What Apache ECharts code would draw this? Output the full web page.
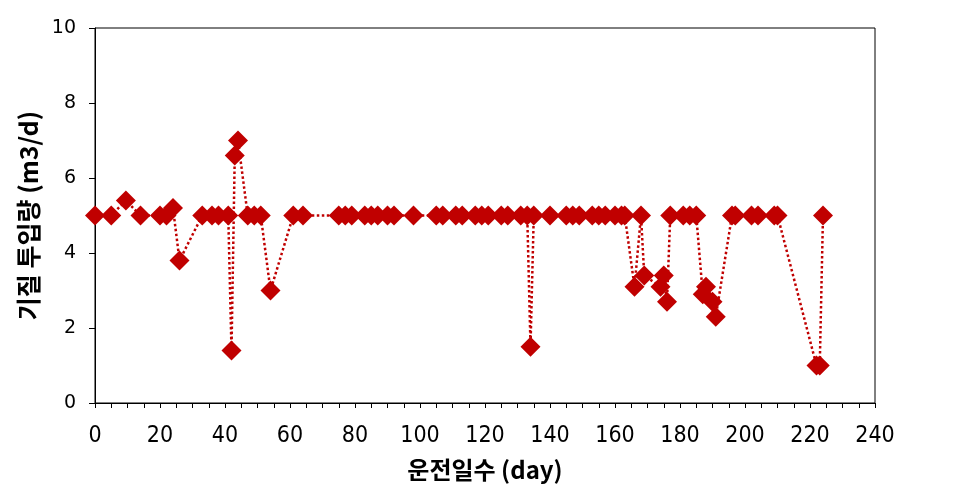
<!DOCTYPE html>
<html>
<head>
<meta charset="utf-8">
<script src="https://cdn.jsdelivr.net/npm/echarts@6/dist/echarts.min.js"></script>
<style>
html,body{margin:0;padding:0;background:#fff;}
#chart{width:974px;height:494px;}
</style>
</head>
<body>
<div id="chart"></div>
<script>
// Operating day (x) and substrate loading (m3/d)
const days = [0, 5, 9.5, 14, 20, 22, 24, 26, 33, 36, 38, 41, 42, 43, 44, 47, 49, 51, 54, 61, 64,
  75, 77, 79, 83, 85, 87, 90, 92, 98,
  105, 107, 111, 113, 117, 119, 121, 125, 127, 131, 133, 134, 135, 140,
  145, 147, 149, 153, 155, 157, 160, 162, 163, 166, 168, 169, 174, 175, 176, 177,
  181, 183, 185, 187, 188, 190, 191, 196, 197, 202, 204, 209, 210, 222, 223, 224];
const loading = [5, 5, 5.4, 5, 5, 5, 5.2, 3.8, 5, 5, 5, 5, 1.4, 6.6, 7.0, 5, 5, 5, 3.0, 5, 5,
  5, 5, 5, 5, 5, 5, 5, 5, 5,
  5, 5, 5, 5, 5, 5, 5, 5, 5, 5, 5, 1.5, 5, 5,
  5, 5, 5, 5, 5, 5, 5, 5, 5, 3.1, 5, 3.4, 3.1, 3.4, 2.7, 5,
  5, 5, 5, 2.9, 3.1, 2.7, 2.3, 5, 5, 5, 5, 5, 5, 1.0, 1.0, 5];
const xTickLabels = [0, 20, 40, 60, 80, 100, 120, 140, 160, 180, 200, 220, 240];
const yTickLabels = [0, 2, 4, 6, 8, 10];
const xTitle = '운전일수 (day)';
const yTitle = '기질 투입량 (m3/d)';

const points = days.map((d, i) => [d, loading[i]]);
const red = '#c00000';

const chart = echarts.init(document.getElementById('chart'), null, {renderer: 'canvas'});
chart.setOption({
  animation: false,
  backgroundColor: '#ffffff',
  grid: {left: 95, right: 99, top: 28, bottom: 91, show: true, borderColor: '#000', borderWidth: 1, backgroundColor: 'transparent'},
  xAxis: {
    type: 'value', min: 0, max: 240, interval: 5,
    name: xTitle, nameLocation: 'middle', nameGap: 55,
    nameTextStyle: {fontFamily: '"Noto Sans CJK KR"', fontWeight: 'bold', fontSize: 24, color: '#000'},
    axisLine: {show: true, onZero: false, lineStyle: {color: '#000', width: 1}},
    axisTick: {show: true, inside: false, length: 5, lineStyle: {color: '#000', width: 1}},
    axisLabel: {
      margin: 22, color: '#000', fontSize: 23, fontFamily: '"Liberation Sans Narrow", "DejaVu Sans Condensed", sans-serif',
      formatter: v => (xTickLabels.indexOf(v) >= 0 ? String(v) : '')
    },
    splitLine: {show: false}
  },
  yAxis: {
    type: 'value', min: 0, max: 10, interval: 2,
    name: yTitle, nameLocation: 'middle', nameGap: 53, nameRotate: 90,
    nameTextStyle: {fontFamily: '"Noto Sans CJK KR"', fontWeight: 'bold', fontSize: 25, color: '#000'},
    axisLine: {show: true, onZero: false, lineStyle: {color: '#000', width: 1}},
    axisTick: {show: true, inside: false, length: 6, lineStyle: {color: '#000', width: 1}},
    axisLabel: {
      margin: 19, color: '#000', fontSize: 19, fontFamily: '"DejaVu Sans", sans-serif',
      formatter: v => (yTickLabels.indexOf(v) >= 0 ? String(v) : '')
    },
    splitLine: {show: false}
  },
  series: [{
    type: 'line',
    data: points,
    symbol: 'diamond',
    symbolSize: 20,
    showAllSymbol: true,
    itemStyle: {color: red},
    lineStyle: {color: red, width: 2.5, type: [2.5, 2.5], cap: 'butt'},
    z: 3
  }]
});
</script>
</body>
</html>
